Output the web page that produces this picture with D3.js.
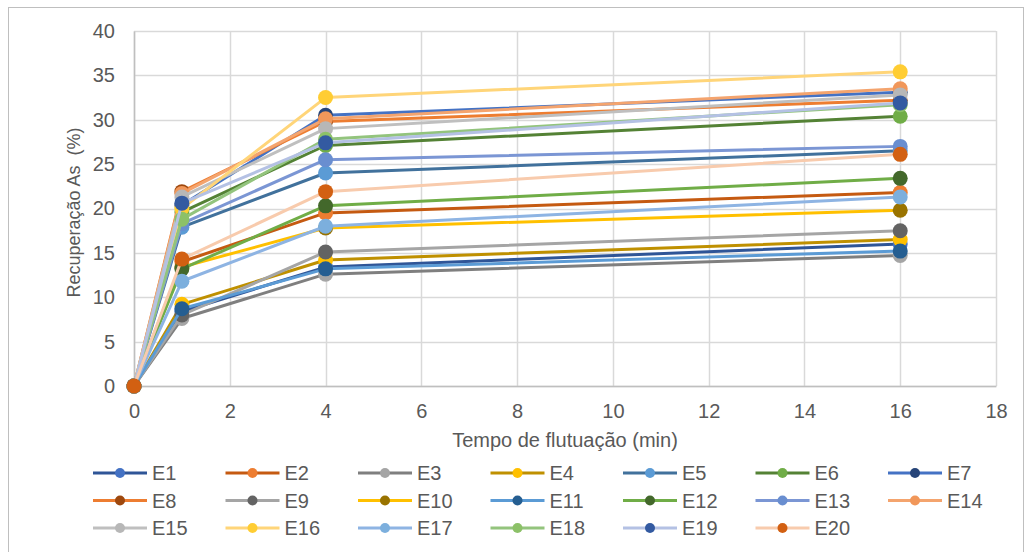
<!DOCTYPE html>
<html>
<head>
<meta charset="utf-8">
<script src="https://cdn.jsdelivr.net/npm/d3@7"></script>
<style>
  body { margin: 0; background: #fff; }
  svg { display: block; font-family: "Liberation Sans", Arial, sans-serif; }
</style>
</head>
<body>
<svg id="chart" width="1027" height="552"></svg>
<script>
// Tempo de flutuação (min) vs Recuperação As (%)
const times = [0, 1, 4, 16];
const seriesNames = ['E1','E2','E3','E4','E5','E6','E7','E8','E9','E10',
                     'E11','E12','E13','E14','E15','E16','E17','E18','E19','E20'];
const recovery = [
  [0, 8.4, 13.4, 16.0],
  [0, 14.0, 19.5, 21.8],
  [0, 7.6, 12.6, 14.7],
  [0, 9.2, 14.2, 16.5],
  [0, 17.9, 24.0, 26.5],
  [0, 19.6, 27.1, 30.4],
  [0, 20.4, 30.5, 33.1],
  [0, 21.9, 29.8, 32.2],
  [0, 8.0, 15.1, 17.5],
  [0, 13.4, 17.8, 19.8],
  [0, 8.7, 13.2, 15.2],
  [0, 13.2, 20.3, 23.4],
  [0, 18.3, 25.5, 27.0],
  [0, 21.7, 30.1, 33.5],
  [0, 21.3, 29.0, 32.8],
  [0, 20.0, 32.5, 35.4],
  [0, 11.8, 18.0, 21.3],
  [0, 18.8, 27.8, 31.7],
  [0, 20.6, 27.4, 31.9],
  [0, 14.3, 21.9, 26.1]
];
const lineColors = ['#2F5597','#C55A11','#7F7F7F','#BF9000','#41719C','#548235','#4472C4',
                    '#ED7D31','#A5A5A5','#FFC000','#5B9BD5','#70AD47','#7B96D4','#F4A46E',
                    '#BFBFBF','#FFD579','#8EB4E3','#93C47D','#B4C1E4','#F8CBAD'];
const markerColors = ['#4472C4','#ED7D31','#A5A5A5','#FFC000','#5B9BD5','#70AD47','#264478',
                      '#9E480E','#636363','#997300','#255E91','#43682B','#698ED0','#F1975A',
                      '#B7B7B7','#FFCD33','#7CAFDD','#8CC168','#335AA1','#D26012'];
const xTicks = [0, 2, 4, 6, 8, 10, 12, 14, 16, 18];
const yTicks = [0, 5, 10, 15, 20, 25, 30, 35, 40];

const svg = d3.select('#chart');
const textColor = '#595959';
const gridColor = '#D9D9D9';

// outer frame
svg.append('rect')
    .attr('x', 8.5).attr('y', 7.5)
    .attr('width', 1015).attr('height', 560)
    .attr('fill', '#fff')
    .attr('stroke', '#BFBFBF')
    .attr('stroke-width', 1);

const plot = { left: 134, right: 996, top: 31, bottom: 386 };

const x = d3.scaleLinear().domain([0, 18]).range([plot.left, plot.right]);
const y = d3.scaleLinear().domain([0, 40]).range([plot.bottom, plot.top]);

// grid
svg.append('g')
    .selectAll('line.h')
    .data(yTicks)
    .enter()
    .append('line')
    .attr('x1', plot.left).attr('x2', plot.right)
    .attr('y1', d => Math.round(y(d)) + 0.5)
    .attr('y2', d => Math.round(y(d)) + 0.5)
    .style('stroke', gridColor)
    .style('stroke-width', 1.5);

svg.append('g')
    .selectAll('line.v')
    .data(xTicks)
    .enter()
    .append('line')
    .attr('x1', d => Math.round(x(d)) + 0.5)
    .attr('x2', d => Math.round(x(d)) + 0.5)
    .attr('y1', plot.top).attr('y2', plot.bottom)
    .style('stroke', gridColor)
    .style('stroke-width', 1.5);

// axes
const xAxis = d3.axisBottom(x).tickValues(xTicks).tickSize(0).tickPadding(18);
const yAxis = d3.axisLeft(y).tickValues(yTicks).tickSize(0).tickPadding(19);

const gx = svg.append('g').attr('transform', `translate(0,${plot.bottom})`).call(xAxis);
const gy = svg.append('g').attr('transform', `translate(${plot.left},0)`).call(yAxis);
[gx, gy].forEach(g => {
    g.select('.domain').style('stroke', '#BFBFBF').style('stroke-width', 1.5);
    g.selectAll('text').style('fill', textColor).style('font-size', '20px')
        .style('font-family', '"Liberation Sans", Arial, sans-serif');
});

// axis titles
svg.append('text')
    .attr('x', (plot.left + plot.right) / 2)
    .attr('y', 447)
    .attr('text-anchor', 'middle')
    .style('fill', textColor)
    .style('font-size', '20px')
    .text('Tempo de flutuação (min)');

svg.append('text')
    .attr('transform', `translate(80,${(plot.top + plot.bottom) / 2 + 4}) rotate(-90)`)
    .attr('text-anchor', 'middle')
    .style('fill', textColor)
    .style('font-size', '18px')
    .style('white-space', 'pre')
    .text('Recuperação As  (%)');

// series
const line = d3.line()
    .x((d, i) => x(times[i]))
    .y(d => y(d));

seriesNames.forEach((name, s) => {
    const g = svg.append('g').attr('class', 'series');
    g.append('path')
        .datum(recovery[s])
        .attr('d', line)
        .style('fill', 'none')
        .style('stroke', lineColors[s])
        .style('stroke-width', 3)
        .style('stroke-linejoin', 'round');
    g.selectAll('circle')
        .data(recovery[s])
        .enter()
        .append('circle')
        .attr('cx', (d, i) => x(times[i]))
        .attr('cy', d => y(d))
        .attr('r', 7.5)
        .style('fill', markerColors[s]);
});

// legend
const legend = svg.append('g').attr('class', 'legend');
const items = legend.selectAll('.legend-item')
    .data(seriesNames)
    .enter()
    .append('g')
    .attr('class', 'legend-item')
    .attr('transform', (d, i) => `translate(${93 + (i % 7) * 132.5}, ${473 + Math.floor(i / 7) * 27.5})`);

items.append('line')
    .attr('x1', 0).attr('x2', 54)
    .attr('y1', 0).attr('y2', 0)
    .style('stroke', (d, i) => lineColors[i])
    .style('stroke-width', 3);

items.append('circle')
    .attr('cx', 27).attr('cy', 0)
    .attr('r', 5)
    .style('fill', (d, i) => markerColors[i]);

items.append('text')
    .attr('x', 59)
    .attr('y', 7)
    .style('fill', textColor)
    .style('font-size', '20px')
    .text(d => d);
</script>
</body>
</html>
